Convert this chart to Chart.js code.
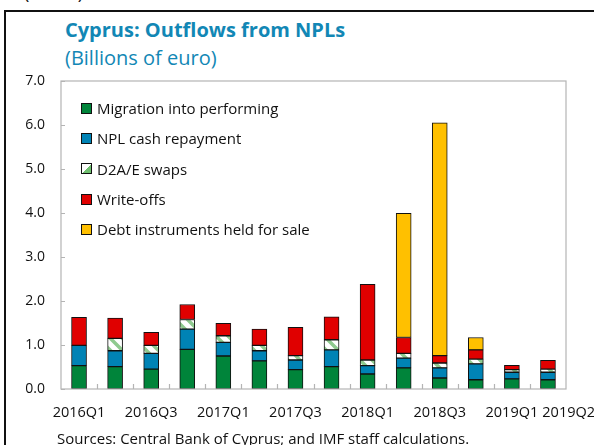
<!DOCTYPE html>
<html>
<head>
<meta charset="utf-8">
<script src="https://cdn.jsdelivr.net/npm/chart.js@4/dist/chart.umd.min.js"></script>
<style>
    body { margin: 0; background: #fff; }
    #wrap { position: relative; width: 594px; height: 445px; overflow: hidden; font-family: "Open Sans", sans-serif; }
    #frame { position: absolute; left: 4px; top: 10px; width: 600px; height: 460px; border-left: 2px solid #111; border-top: 2px solid #111; }
    #cut { position: absolute; left: 24px; top: -20px; font-size: 18px; color: #111; }
    #title { position: absolute; left: 65px; top: 16px; font-size: 20px; font-weight: bold; color: #1287b5; }
    #subtitle { position: absolute; left: 65px; top: 44px; font-size: 20px; color: #1287b5; }
    #source { position: absolute; left: 57px; top: 428px; font-size: 15px; color: #111; }
    #chart { position: absolute; left: 0; top: 0; }
    #legend { position: absolute; left: 81px; top: 93px; }
    .item { height: 30.3px; display: flex; align-items: center; font-size: 15px; color: #111; }
    .box { width: 9px; height: 9px; border: 1px solid #111; margin-right: 5px; }
</style>
</head>
<body>
<div id="wrap">
    <div id="frame"></div>
    <div id="cut">(concl.)</div>
    <div id="title">Cyprus: Outflows from NPLs</div>
    <div id="subtitle">(Billions of euro)</div>
    <canvas id="chart" width="594" height="445"></canvas>
    <div id="legend"></div>
    <div id="source">Sources: Central Bank of Cyprus; and IMF staff calculations.</div>
</div>
<script>
// quarters
const quarters = ['2016Q1', '2016Q2', '2016Q3', '2016Q4', '2017Q1', '2017Q2', '2017Q3',
    '2017Q4', '2018Q1', '2018Q2', '2018Q3', '2018Q4', '2019Q1', '2019Q2'];

// series values (billions of euro)
const migration = [0.53, 0.51, 0.45, 0.90, 0.75, 0.64, 0.44, 0.51, 0.34, 0.48, 0.25, 0.21, 0.23, 0.21];
const cashRepayment = [0.46, 0.36, 0.36, 0.46, 0.31, 0.23, 0.22, 0.38, 0.19, 0.22, 0.23, 0.36, 0.15, 0.17];
const swaps = [0, 0.28, 0.18, 0.22, 0.15, 0.12, 0.10, 0.23, 0.13, 0.11, 0.11, 0.11, 0.06, 0.07];
const writeOffs = [0.64, 0.46, 0.30, 0.34, 0.28, 0.37, 0.64, 0.52, 1.72, 0.36, 0.17, 0.21, 0.10, 0.20];
const heldForSale = [0, 0, 0, 0, 0, 0, 0, 0, 0, 2.82, 5.29, 0.28, 0, 0];

// y ticks
const yTicks = [0, 1, 2, 3, 4, 5, 6, 7];
// quarters that get a label on the x axis
const shownLabels = ['2016Q1', '2016Q3', '2017Q1', '2017Q3', '2018Q1', '2018Q3', '2019Q1', '2019Q2'];

const seriesNames = ['Migration into performing', 'NPL cash repayment', 'D2A/E swaps', 'Write-offs', 'Debt instruments held for sale'];

// hatch pattern for the swaps
function makeHatch() {
    const c = document.createElement('canvas');
    c.width = 12; c.height = 12;
    const g = c.getContext('2d');
    g.fillStyle = '#ffffff';
    g.fillRect(0, 0, 12, 12);
    g.strokeStyle = '#8fca8f';
    g.lineWidth = 3.5;
    g.beginPath();
    g.moveTo(-2, -2); g.lineTo(14, 14);
    g.moveTo(-8, 4); g.lineTo(2, 14);
    g.moveTo(10, -2); g.lineTo(20, 8);
    g.stroke();
    return g.createPattern(c, 'repeat');
}

const ctx = document.getElementById('chart').getContext('2d');
const colors = ['#00843a', '#0083b5', makeHatch(), '#e00000', '#ffc000'];
const legendColors = ['#00843a', '#0083b5', 'linear-gradient(135deg, #fff 50%, #6fbf6f 50%)', '#e00000', '#ffc000'];

// legend in html
document.getElementById('legend').innerHTML = seriesNames.map((name, i) =>
    `<div class="item"><span class="box" style="background:${legendColors[i]}"></span>${name}</div>`
).join('');

// plot frame and inward ticks
const framePlugin = {
    id: 'frame',
    afterDraw(chart) {
        const a = chart.chartArea;
        const c = chart.ctx;
        const x = chart.scales.x;
        const y = chart.scales.y;
        c.save();
        c.strokeStyle = '#b4b4b4';
        c.lineWidth = 1.2;
        c.strokeRect(a.left, a.top, a.right - a.left, a.bottom - a.top);
        c.beginPath();
        yTicks.forEach(v => {
            const py = Math.round(y.getPixelForValue(v)) + 0.5;
            c.moveTo(a.left, py); c.lineTo(a.left + 4, py);
        });
        for (let i = 1; i < quarters.length; i++) {
            const px = Math.round((x.getPixelForValue(i - 1) + x.getPixelForValue(i)) / 2) + 0.5;
            c.moveTo(px, a.bottom); c.lineTo(px, a.bottom - 5);
        }
        c.stroke();
        c.restore();
    }
};

new Chart(ctx, {
    type: 'bar',
    data: {
        labels: quarters,
        datasets: [migration, cashRepayment, swaps, writeOffs, heldForSale].map((values, i) => ({
            label: seriesNames[i],
            data: values,
            backgroundColor: colors[i],
            borderColor: '#111',
            borderWidth: 1,
            borderSkipped: false,
            barThickness: 15
        }))
    },
    options: {
        responsive: false,
        animation: false,
        layout: { padding: { left: 0, right: 28, top: 81, bottom: 26 } },
        plugins: { legend: { display: false }, tooltip: { enabled: false } },
        scales: {
            x: {
                stacked: true,
                grid: { display: false, drawTicks: false },
                border: { display: false },
                afterFit: s => { s.height = 30; s.paddingLeft = 0; s.paddingRight = 0; },
                ticks: {
                    autoSkip: false,
                    maxRotation: 0,
                    padding: 15,
                    color: '#111',
                    font: { family: 'Open Sans', size: 14.5 },
                    callback: function(v, i) {
                        const q = quarters[i];
                        if (!shownLabels.includes(q)) return '';
                        // last label is pushed right in the original
                        return q === '2019Q2' ? '           ' + q : q;
                    }
                }
            },
            y: {
                stacked: true,
                min: 0,
                max: 7,
                grid: { display: false, drawTicks: false },
                border: { display: false },
                afterFit: s => { s.width = 61; },
                afterBuildTicks: s => { s.ticks = yTicks.map(v => ({ value: v })); },
                ticks: {
                    padding: 16,
                    color: '#111',
                    font: { family: 'Open Sans', size: 14 },
                    callback: v => v.toFixed(1)
                }
            }
        }
    },
    plugins: [framePlugin]
});
</script>
</body>
</html>
